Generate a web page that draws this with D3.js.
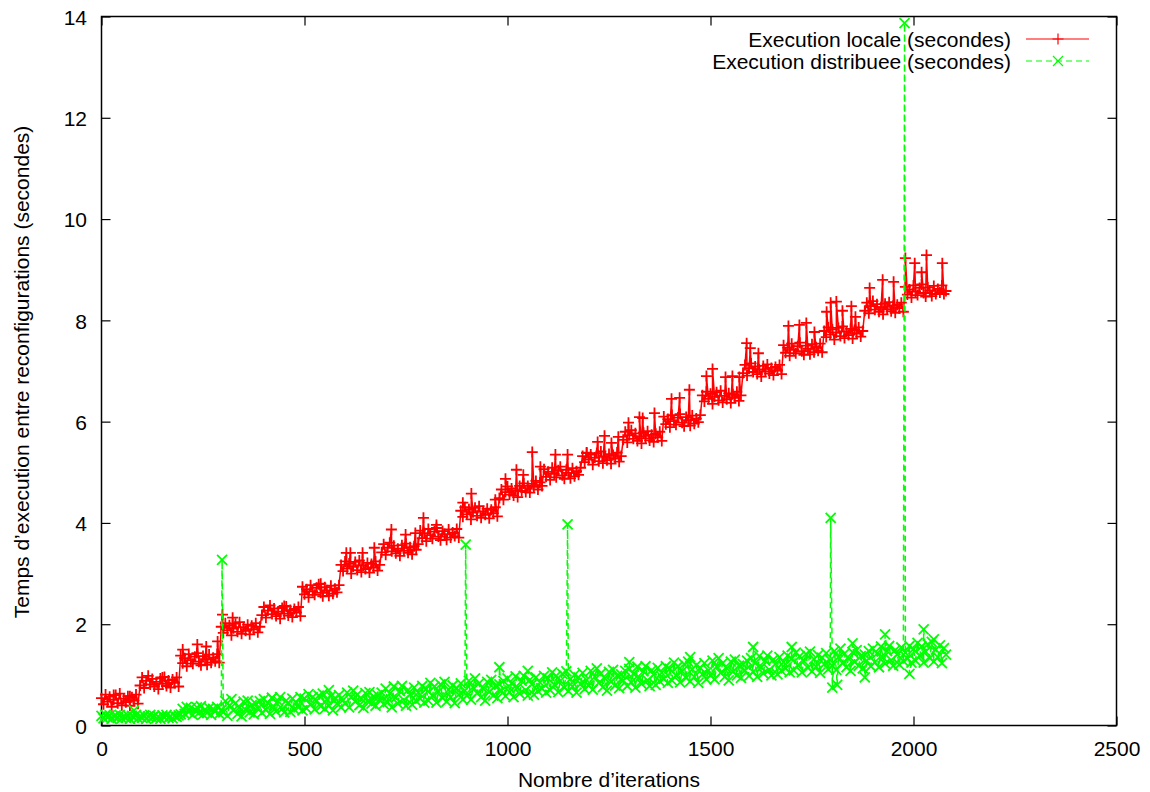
<!DOCTYPE html>
<html>
<head>
<meta charset="utf-8">
<script src="https://cdn.jsdelivr.net/npm/d3@7"></script>
<style>
  body { margin: 0; background: #fff; }
  text { font-family: "Liberation Sans", Arial, Helvetica, sans-serif; fill: #000; }
</style>
</head>
<body>
<div class="canvas"></div>
<script>
const iterStep = 5;

const localTimes = [
  // 0-90
  0.54, 0.42, 0.61, 0.47, 0.57, 0.37, 0.51, 0.60, 0.44, 0.63, 0.40, 0.53, 0.46, 0.58, 0.39, 0.56, 0.49, 0.61, 0.43,
  // 95-190
  0.79, 0.95, 0.74, 0.88, 0.98, 0.81, 0.92, 0.77, 0.86, 0.72, 0.93, 0.82, 0.96, 0.78, 0.89, 0.75, 0.91, 0.84, 0.95, 0.77,
  // 195-290
  1.38, 1.23, 1.33, 1.17, 1.41, 1.29, 1.22, 1.36, 1.43, 1.26, 1.19, 1.37, 1.31, 1.20, 1.40, 1.24, 1.34, 1.27, 1.41, 1.24,
  // 295-390
  1.95, 1.83, 2.02, 1.88, 1.98, 1.78, 1.92, 2.01, 1.85, 2.04, 1.81, 1.94, 1.87, 1.99, 1.80, 1.97, 1.90, 2.02, 1.84, 1.95,
  // 395-490
  2.18, 2.34, 2.13, 2.27, 2.37, 2.20, 2.31, 2.16, 2.25, 2.11, 2.32, 2.21, 2.35, 2.17, 2.28, 2.14, 2.30, 2.23, 2.34, 2.16,
  // 495-585
  2.74, 2.59, 2.69, 2.53, 2.77, 2.65, 2.58, 2.72, 2.79, 2.62, 2.55, 2.73, 2.67, 2.56, 2.76, 2.60, 2.70, 2.63, 2.77,
  // 590-685
  3.17, 3.05, 3.24, 3.10, 3.20, 3.00, 3.14, 3.23, 3.07, 3.26, 3.03, 3.16, 3.09, 3.21, 3.02, 3.19, 3.12, 3.24, 3.06, 3.17,
  // 690-780
  3.42, 3.58, 3.37, 3.51, 3.61, 3.44, 3.55, 3.40, 3.49, 3.35, 3.56, 3.45, 3.59, 3.41, 3.52, 3.38, 3.54, 3.47, 3.58,
  // 785-880
  3.85, 3.70, 3.80, 3.64, 3.88, 3.76, 3.69, 3.83, 3.90, 3.73, 3.66, 3.84, 3.78, 3.67, 3.87, 3.71, 3.81, 3.74, 3.88, 3.71,
  // 885-975
  4.24, 4.12, 4.31, 4.17, 4.27, 4.07, 4.21, 4.30, 4.14, 4.33, 4.10, 4.23, 4.16, 4.28, 4.09, 4.26, 4.19, 4.31, 4.13,
  // 980-1085
  4.49, 4.66, 4.46, 4.61, 4.72, 4.56, 4.68, 4.54, 4.64, 4.51, 4.73, 4.63, 4.78, 4.61, 4.73, 4.60, 4.77, 4.71, 4.83, 4.66, 4.80, 4.73,
  // 1090-1180
  5.06, 4.91, 5.01, 4.85, 5.09, 4.97, 4.90, 5.04, 5.11, 4.94, 4.87, 5.05, 4.99, 4.88, 5.08, 4.92, 5.02, 4.95, 5.09,
  // 1185-1280
  5.32, 5.20, 5.39, 5.25, 5.35, 5.15, 5.29, 5.38, 5.22, 5.41, 5.18, 5.31, 5.24, 5.36, 5.17, 5.34, 5.27, 5.39, 5.21, 5.32,
  // 1285-1380
  5.64, 5.80, 5.59, 5.73, 5.83, 5.66, 5.77, 5.62, 5.71, 5.57, 5.78, 5.67, 5.81, 5.63, 5.74, 5.60, 5.76, 5.69, 5.80, 5.62,
  // 1385-1475
  6.10, 5.95, 6.05, 5.89, 6.13, 6.01, 5.94, 6.08, 6.15, 5.98, 5.91, 6.09, 6.03, 5.92, 6.12, 5.96, 6.06, 5.99, 6.13,
  // 1480-1575
  6.52, 6.40, 6.59, 6.45, 6.55, 6.35, 6.49, 6.58, 6.42, 6.61, 6.38, 6.51, 6.44, 6.56, 6.37, 6.54, 6.47, 6.59, 6.41, 6.52,
  // 1580-1675
  6.96, 7.12, 6.91, 7.05, 7.15, 6.98, 7.09, 6.94, 7.03, 6.89, 7.10, 6.99, 7.13, 6.95, 7.06, 6.92, 7.08, 7.01, 7.12, 6.94,
  // 1680-1775
  7.51, 7.36, 7.46, 7.30, 7.54, 7.42, 7.35, 7.49, 7.56, 7.39, 7.32, 7.50, 7.44, 7.33, 7.53, 7.37, 7.47, 7.40, 7.54, 7.37,
  // 1780-1875
  7.79, 7.67, 7.86, 7.72, 7.82, 7.62, 7.76, 7.85, 7.69, 7.88, 7.65, 7.78, 7.71, 7.83, 7.64, 7.81, 7.74, 7.86, 7.68, 7.79,
  // 1880-1975
  8.19, 8.35, 8.14, 8.28, 8.38, 8.21, 8.32, 8.17, 8.26, 8.12, 8.33, 8.22, 8.36, 8.18, 8.29, 8.15, 8.31, 8.24, 8.35, 8.17,
  // 1980-2080
  8.66, 8.51, 8.61, 8.45, 8.69, 8.57, 8.50, 8.64, 8.71, 8.54, 8.47, 8.65, 8.59, 8.48, 8.68, 8.52, 8.62, 8.55, 8.69, 8.52, 8.58
];

const distribTimes = [
  // 0-95
  0.19, 0.14, 0.21, 0.16, 0.20, 0.13, 0.18, 0.20, 0.15, 0.21, 0.14, 0.18, 0.15, 0.20, 0.13, 0.19, 0.16, 0.21, 0.14, 0.18,
  // 100-195
  0.15, 0.20, 0.13, 0.18, 0.21, 0.16, 0.19, 0.14, 0.17, 0.13, 0.20, 0.16, 0.21, 0.15, 0.18, 0.14, 0.19, 0.17, 0.20, 0.22,
  // 200-295
  0.33, 0.23, 0.37, 0.27, 0.35, 0.21, 0.30, 0.36, 0.25, 0.38, 0.22, 0.32, 0.25, 0.35, 0.21, 0.33, 0.28, 0.37, 0.23, 0.31,
  // 300-395
  0.26, 0.48, 0.19, 0.39, 0.52, 0.30, 0.44, 0.23, 0.36, 0.18, 0.47, 0.31, 0.49, 0.26, 0.40, 0.22, 0.43, 0.34, 0.48, 0.25,
  // 400-495
  0.52, 0.31, 0.44, 0.23, 0.54, 0.37, 0.28, 0.48, 0.56, 0.33, 0.26, 0.49, 0.43, 0.27, 0.53, 0.32, 0.45, 0.36, 0.56, 0.30,
  // 500-595
  0.53, 0.34, 0.62, 0.42, 0.56, 0.32, 0.49, 0.59, 0.38, 0.63, 0.33, 0.51, 0.39, 0.58, 0.30, 0.54, 0.43, 0.60, 0.36, 0.50,
  // 600-695
  0.43, 0.65, 0.36, 0.56, 0.69, 0.47, 0.61, 0.40, 0.53, 0.35, 0.64, 0.48, 0.66, 0.43, 0.57, 0.39, 0.60, 0.51, 0.65, 0.42,
  // 700-795
  0.73, 0.46, 0.63, 0.36, 0.77, 0.55, 0.43, 0.68, 0.78, 0.50, 0.39, 0.70, 0.61, 0.41, 0.75, 0.48, 0.65, 0.53, 0.78, 0.45,
  // 800-895
  0.72, 0.49, 0.84, 0.59, 0.77, 0.45, 0.67, 0.81, 0.54, 0.86, 0.47, 0.71, 0.56, 0.79, 0.44, 0.74, 0.61, 0.83, 0.51, 0.69,
  // 900-995
  0.59, 0.88, 0.51, 0.76, 0.93, 0.64, 0.83, 0.56, 0.73, 0.49, 0.86, 0.66, 0.90, 0.59, 0.78, 0.54, 0.81, 0.69, 0.88, 0.58,
  // 1000-1095
  0.93, 0.66, 0.83, 0.56, 0.97, 0.75, 0.63, 0.88, 0.98, 0.70, 0.59, 0.90, 0.81, 0.61, 0.95, 0.68, 0.85, 0.73, 0.98, 0.65,
  // 1100-1195
  0.93, 0.70, 1.05, 0.80, 0.98, 0.66, 0.88, 1.02, 0.75, 1.07, 0.68, 0.92, 0.77, 1.00, 0.65, 0.95, 0.82, 1.04, 0.72, 0.90,
  // 1200-1295
  0.79, 1.08, 0.71, 0.96, 1.13, 0.84, 1.03, 0.76, 0.93, 0.69, 1.06, 0.86, 1.10, 0.79, 0.98, 0.74, 1.01, 0.89, 1.08, 0.78,
  // 1300-1395
  1.12, 0.85, 1.02, 0.75, 1.16, 0.94, 0.82, 1.07, 1.17, 0.89, 0.78, 1.09, 1.00, 0.80, 1.14, 0.87, 1.04, 0.92, 1.17, 0.84,
  // 1400-1495
  1.12, 0.89, 1.24, 0.99, 1.17, 0.85, 1.07, 1.21, 0.94, 1.26, 0.87, 1.11, 0.96, 1.19, 0.84, 1.14, 1.01, 1.23, 0.91, 1.09,
  // 1500-1595
  0.99, 1.28, 0.91, 1.16, 1.33, 1.04, 1.23, 0.96, 1.13, 0.89, 1.26, 1.06, 1.30, 0.99, 1.18, 0.94, 1.21, 1.09, 1.28, 0.98,
  // 1600-1695
  1.33, 1.06, 1.23, 0.96, 1.37, 1.15, 1.03, 1.28, 1.38, 1.10, 0.99, 1.30, 1.21, 1.01, 1.35, 1.08, 1.25, 1.13, 1.38, 1.05,
  // 1700-1795
  1.32, 1.09, 1.44, 1.19, 1.37, 1.05, 1.27, 1.41, 1.14, 1.46, 1.07, 1.31, 1.16, 1.39, 1.04, 1.34, 1.21, 1.43, 1.11, 1.29,
  // 1800-1895
  1.18, 1.47, 1.10, 1.35, 1.52, 1.23, 1.42, 1.15, 1.32, 1.08, 1.45, 1.25, 1.49, 1.18, 1.37, 1.13, 1.40, 1.28, 1.47, 1.17,
  // 1900-1995
  1.52, 1.25, 1.42, 1.15, 1.56, 1.34, 1.22, 1.47, 1.57, 1.29, 1.18, 1.49, 1.40, 1.20, 1.54, 1.27, 1.44, 1.32, 1.57, 1.24,
  // 2000-2080
  1.51, 1.28, 1.63, 1.38, 1.56, 1.24, 1.46, 1.60, 1.33, 1.65, 1.26, 1.50, 1.35, 1.58, 1.23, 1.53, 1.40
];

// isolated points (iteration, seconds) sitting off the main bands
const localSpikes = [
  [30, 0.60], [70, 0.58], [150, 0.95], [200, 1.50], [236, 1.60], [258, 1.56],
  [286, 1.66], [298, 2.19], [323, 2.13], [450, 2.36], [540, 2.80], [603, 3.41],
  [613, 3.41], [643, 3.41], [672, 3.51], [714, 3.87], [749, 3.77], [773, 3.80],
  [793, 4.10], [825, 3.96], [890, 4.40], [911, 4.58], [970, 4.46], [995, 4.87],
  [1022, 5.05], [1039, 4.95], [1061, 5.40], [1081, 5.11], [1118, 5.35], [1148, 5.35],
  [1195, 5.38], [1222, 5.60], [1239, 5.72], [1256, 5.58], [1273, 5.70], [1298, 5.98],
  [1325, 6.09], [1333, 6.07], [1362, 6.17], [1404, 6.45], [1424, 6.47], [1448, 6.63],
  [1490, 6.90], [1505, 7.04], [1537, 6.88], [1554, 6.90], [1571, 6.88], [1589, 7.55],
  [1598, 7.45], [1618, 7.35], [1692, 7.89], [1719, 7.91], [1736, 7.95], [1756, 7.77],
  [1786, 8.17], [1796, 8.35], [1810, 8.37], [1825, 8.19], [1847, 8.28], [1857, 8.07],
  [1892, 8.64], [1924, 8.80], [1951, 8.76], [1980, 9.23], [2003, 9.13], [2020, 8.95],
  [2032, 9.29], [2071, 9.13]
];

const distribSpikes = [
  [80, 0.30], [297, 3.27], [420, 0.55], [560, 0.70], [897, 3.57], [980, 1.15],
  [1050, 1.08], [1148, 3.97], [1300, 1.25], [1450, 1.35], [1605, 1.55], [1700, 1.55],
  [1796, 4.10], [1800, 0.75], [1812, 0.80], [1850, 1.62], [1880, 0.95], [1930, 1.80],
  [1978, 13.87], [1990, 1.02], [2025, 1.90], [2050, 1.70]
];

const xTicks = [0, 500, 1000, 1500, 2000, 2500];
const yTicks = [0, 2, 4, 6, 8, 10, 12, 14];
const seriesNames = ['Execution locale (secondes)', 'Execution distribuee (secondes)'];

const width = 1150, height = 792;
const margin = {top: 16.5, right: 33.5, bottom: 66.5, left: 101.5};

const svg = d3.select('.canvas')
  .append('svg')
  .attr('width', width)
  .attr('height', height);

const x = d3.scaleLinear().domain([0, 2500]).range([margin.left, width - margin.right]);
const y = d3.scaleLinear().domain([0, 14]).range([height - margin.bottom, margin.top]);

// merge the regular samples with the isolated points
function buildSeries(values, extras) {
  const pts = values.map((v, i) => ({it: i * iterStep, v: v}));
  extras.forEach(e => pts.push({it: e[0], v: e[1]}));
  pts.sort((a, b) => a.it - b.it);
  return pts;
}

const local = buildSeries(localTimes, localSpikes);
const distrib = buildSeries(distribTimes, distribSpikes);

const plusPath = 'M-5.5,0H5.5M0,-5.5V5.5';
const crossPath = 'M-5,-5L5,5M-5,5L5,-5';
const markStroke = 1.8;

// axes, ticks pointing inward
const fontSize = 21;
const xAxisG = svg.append('g')
  .attr('transform', `translate(0, ${y(0)})`)
  .call(d3.axisBottom(x).tickValues(xTicks).tickSize(-9).tickFormat(d3.format('d')));
xAxisG.selectAll('text').attr('y', 30.5).attr('dy', null).style('font-size', fontSize + 'px');

svg.append('g')
  .attr('transform', `translate(0, ${y(14)})`)
  .call(d3.axisTop(x).tickValues(xTicks).tickSize(-9).tickFormat(''));

const yAxisG = svg.append('g')
  .attr('transform', `translate(${x(0)}, 0)`)
  .call(d3.axisLeft(y).tickValues(yTicks).tickSize(-9).tickFormat(d3.format('d')));
yAxisG.selectAll('text').attr('x', -14.5).attr('dy', '0.37em').style('font-size', fontSize + 'px');

svg.append('g')
  .attr('transform', `translate(${x(2500)}, 0)`)
  .call(d3.axisRight(y).tickValues(yTicks).tickSize(-9).tickFormat(''));

svg.selectAll('.domain').remove();
svg.selectAll('.tick line').attr('stroke', '#000').attr('stroke-width', 1.2);

// frame
svg.append('rect')
  .attr('x', x(0)).attr('y', y(14))
  .attr('width', x(2500) - x(0)).attr('height', y(0) - y(14))
  .attr('fill', 'none').attr('stroke', '#000').attr('stroke-width', 1.5);

// axis titles
svg.append('text')
  .attr('x', 609).attr('y', 787)
  .attr('text-anchor', 'middle')
  .style('font-size', fontSize + 'px')
  .text('Nombre d’iterations');

svg.append('text')
  .attr('transform', 'translate(29, 372) rotate(-90)')
  .attr('text-anchor', 'middle')
  .style('font-size', fontSize + 'px')
  .text('Temps d’execution entre reconfigurations (secondes)');

const line = d3.line().x(d => x(d.it)).y(d => y(d.v));

const plot = svg.append('g');

// local run
plot.append('path')
  .datum(local)
  .attr('d', line)
  .attr('fill', 'none')
  .attr('stroke', '#ff0000')
  .attr('stroke-width', 1.5);

plot.append('g').selectAll('path')
  .data(local)
  .enter().append('path')
  .attr('d', plusPath)
  .attr('transform', d => `translate(${x(d.it)}, ${y(d.v)})`)
  .attr('fill', 'none')
  .attr('stroke', '#ff0000')
  .attr('stroke-width', markStroke);

// distributed run
plot.append('path')
  .datum(distrib)
  .attr('d', line)
  .attr('fill', 'none')
  .attr('stroke', '#00ff00')
  .attr('stroke-width', 1.5)
  .attr('stroke-dasharray', '6,4');

plot.append('g').selectAll('path')
  .data(distrib)
  .enter().append('path')
  .attr('d', crossPath)
  .attr('transform', d => `translate(${x(d.it)}, ${y(d.v)})`)
  .attr('fill', 'none')
  .attr('stroke', '#00ff00')
  .attr('stroke-width', markStroke);

// legend
const legend = svg.append('g');
const legendRows = [
  {name: seriesNames[0], color: '#ff0000', dash: null, marker: plusPath},
  {name: seriesNames[1], color: '#00ff00', dash: '6,4', marker: crossPath}
];
legendRows.forEach((r, i) => {
  const ly = 39 + i * 22;
  legend.append('text')
    .attr('x', 1011).attr('y', ly + 7.5)
    .attr('text-anchor', 'end')
    .style('font-size', fontSize + 'px')
    .text(r.name);
  legend.append('line')
    .attr('x1', 1026).attr('x2', 1089)
    .attr('y1', ly).attr('y2', ly)
    .attr('stroke', r.color)
    .attr('stroke-width', 1.2)
    .attr('stroke-dasharray', r.dash);
  legend.append('path')
    .attr('d', r.marker)
    .attr('transform', `translate(1058, ${ly})`)
    .attr('fill', 'none')
    .attr('stroke', r.color)
    .attr('stroke-width', 1.2);
});
</script>
</body>
</html>
